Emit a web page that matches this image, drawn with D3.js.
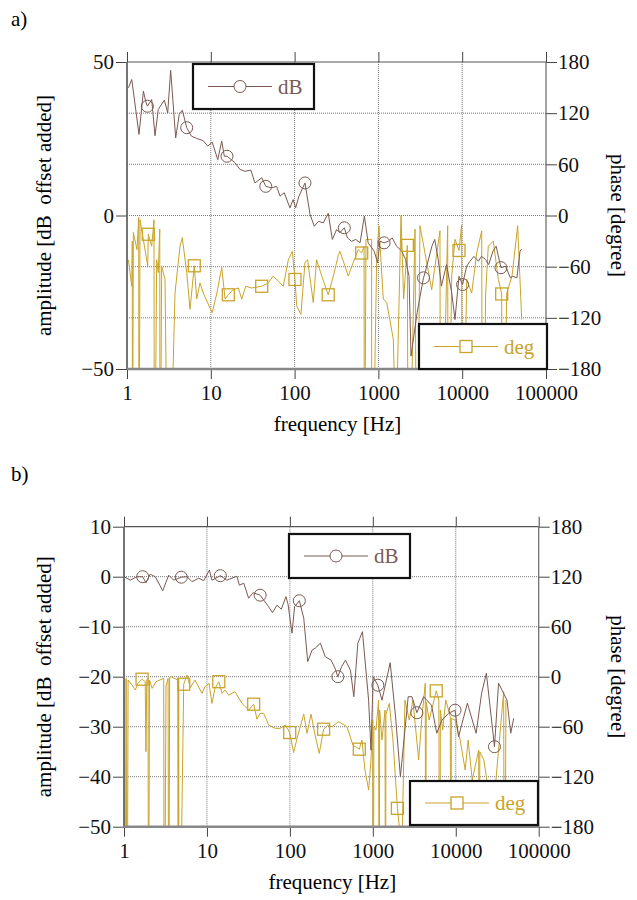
<!DOCTYPE html>
<html lang="en">
<head>
<meta charset="UTF-8" />
<title>Amplitude and phase vs frequency</title>
<script src="https://d3js.org/d3.v7.min.js"></script>
<style>
  body { margin: 0; background: #fff; }
  svg { display: block; }
  text { font-family: "Liberation Serif", "DejaVu Serif", "Times New Roman", serif; }
</style>
</head>
<body>
<svg width="637" height="900"></svg>
<script>
  // ---- data: [frequency Hz, value] ----
  const ampA = [[1.04,41.6],[1.14,44.3],[1.39,26.4],[1.57,40.5],[1.67,37.2],[1.75,35.6],[1.97,37.8],[2.16,26],[2.36,34.5],[2.79,37.6],[3.06,33.4],[3.32,47.3],[3.81,25.3],[4.2,32.9],[4.57,34.3],[5.16,28.6],[5.9,25.8],[6.8,25.1],[8.1,24.4],[9.2,22.6],[10.4,23.9],[12.1,18.2],[13.5,24.2],[14.5,19.3],[15.6,19.3],[19.4,17.2],[22.3,15],[25.6,14.4],[30.1,14.8],[33.6,10.6],[40.6,12.3],[45.3,9.5],[53.3,9],[61,9.5],[67,6.3],[75.2,7.4],[88,2.5],[96,5.2],[103,2.5],[112,6.1],[133,10.6],[153,0.3],[172,-3.5],[192,-1.9],[220,-2.4],[252,0.7],[282,-7.8],[317,-4.6],[347,-5.6],[392,-4],[428,-7.3],[478,-8.4],[537,-7.8],[604,-8.9],[680,-0.2],[755,-8.9],[890,-11.6],[980,-15.4],[1040,-8.4],[1170,-8.9],[1310,-8.4],[1460,-7.3],[1650,-10],[1900,-11.6],[2110,-14.3],[2320,-19.8],[2450,-45.8],[2900,-31.6],[3450,-20.3],[3600,-18.7],[4350,-10],[4700,-7.8],[5170,-14.3],[5650,-23],[6500,-16],[7500,-25.2],[8200,-33.9],[9150,-19.8],[10100,-22.5],[11300,-16.5],[12400,-14.9],[13800,-13.3],[15600,-14.9],[17000,-13.3],[19000,-14.3],[20700,-16],[23300,-11.6],[25400,-10],[29000,-17],[33000,-16.5],[37500,-20.3],[40000,-19.8],[45000,-20.3],[49000,-11.6],[51000,-11]];

  const phA = [[1.04,-52],[1.14,-83],[1.157,-30],[1.16,-400],[1.19,-20],[1.316,-40],[1.38,-2],[1.39,-400],[1.43,-5],[1.565,-28],[1.766,-59],[1.796,-22],[1.97,-36],[2.1,-5],[2.12,-400],[2.26,-52],[2.36,-67],[2.46,-16],[2.48,-400],[2.59,-59],[2.84,-75],[3.11,-400],[3.74,-91],[4.29,-36],[4.57,-26],[5.16,-67],[5.65,-110],[6.35,-59],[6.79,-98],[7.43,-79],[8.13,-91],[10.4,-114],[11.8,-91],[13.5,-61],[14.8,-98],[16.2,-93],[18.5,-87],[21.3,-85],[23.4,-98],[26.1,-83],[30.7,-85],[40.5,-83],[48.5,-79],[55.7,-71],[63.9,-77],[73.3,-83],[84.1,-52],[94,-42],[101,-75],[106,-106],[119,-116],[133,-55],[143,-52],[167,-102],[183,-52],[211,-71],[252,-93],[290,-71],[332,-47],[348,-42],[437,-71],[502,-55],[575,-40],[632,-44],[675,-36],[679,-400],[711,-28],[830,-28],[832,-400],[955,-48],[1016,-12],[1143,-98],[1256,-102],[1506,-145],[1620,-260],[1862,0],[2000,-98],[2215,-35],[2270,-400],[2735,-16],[2865,-400],[3135,-12],[4325,-87],[5430,-18],[5500,-400],[6710,-12],[6800,-400],[7490,-71],[8200,-28],[9160,-41],[9860,-11],[10030,-400],[11320,-75],[12980,-91],[14900,-44],[17100,-18],[17400,-400],[19060,-91],[20480,-36],[23500,-30],[26980,-75],[29600,-92],[30100,-400],[33980,-91],[39300,-71],[45900,-12],[51300,-122]];

  const ampB = [[1,0],[1.19,-0.7],[1.43,0],[1.68,0],[1.84,-1.2],[2.07,0.5],[2.38,0],[2.93,-2.8],[3.46,0.3],[3.97,-0.7],[4.91,-0.1],[5.75,0],[6.6,-1],[7.96,-0.3],[9.14,-0.8],[10.7,1.3],[11.5,-0.7],[14.5,0.2],[17.4,-0.7],[20,-0.3],[23,0.1],[24.6,-1.7],[27.8,-1.3],[31.8,-4.3],[36,-3.2],[43.8,-3.7],[55.3,-6],[61.8,-7.2],[69.8,-5.7],[78.7,-6.5],[89.7,-4],[95,-5.5],[106,-11.3],[114,-6],[130,-4.8],[147,-8.3],[164,-17],[185,-14.7],[205,-14.2],[233,-13.3],[267,-16],[314,-16.7],[350,-18.3],[379,-20],[420,-18],[468,-16.7],[537,-18.7],[590,-24],[660,-13.3],[750,-11],[890,-24.7],[950,-34.7],[1010,-20],[1150,-21.7],[1290,-24.7],[1620,-17.2],[1880,-28],[2150,-40],[2670,-24],[2960,-24],[3400,-27.2],[4100,-24],[5100,-25.7],[5900,-31.3],[6800,-28.7],[8200,-27.3],[9800,-26.7],[10800,-32],[13800,-25.3],[17600,-31.3],[20500,-23.3],[23400,-19.3],[29300,-34],[32800,-21.3],[41500,-24.7],[46000,-31.3],[50000,-28.3]];

  const phB = [[1,-2],[1.03,-400],[1.06,-2],[1.09,-400],[1.12,-4],[1.25,-10],[1.37,-16],[1.47,-8],[1.65,-3],[1.8,-6],[1.84,-90],[1.88,-4],[1.95,-2],[1.97,-400],[2.03,-4],[2.18,-14],[2.43,-6],[3.01,-2],[3.06,-400],[3.21,-11],[3.4,-2],[3.46,-400],[3.55,-1],[3.68,0],[4.45,-4],[4.5,-400],[4.56,-2],[4.62,-400],[5.25,-9],[5.75,2],[6.3,-13],[7.18,-4],[8.72,-20],[9.46,-12],[10.6,-8],[11.5,-32],[12.5,-14],[13.9,-6],[15.2,-20],[16.5,-16],[18.3,-22],[21.8,-18],[26.5,-32],[31.9,-40],[36.6,-33],[40.1,-51],[43.6,-44],[48.3,-44],[55.5,-58],[66.7,-62],[76,-62],[88,-58],[99.5,-67],[111,-91],[125,-70],[147,-45],[161,-68],[180,-45],[201,-70],[226,-92],[255,-63],[287,-58],[322,-60],[387,-54],[488,-60],[576,-82],[687,-87],[740,-76],[804,-112],[891,-136],[950,-100],[996,-52],[1010,-400],[1030,-60],[1090,-64],[1175,-28],[1190,-400],[1210,-40],[1290,-76],[1405,-40],[1420,-400],[1440,-45],[1580,-32],[1750,-76],[1980,-158],[2240,-210],[2440,-28],[2750,-52],[3040,-28],[3570,-100],[3880,-52],[4290,-8],[4340,-400],[4400,-30],[4780,-52],[5820,-17],[6250,-28],[6440,-400],[6520,-40],[6960,-64],[7580,-28],[8590,-48],[8730,-400],[8850,-50],[9800,-52],[11300,-76],[13000,-112],[14100,-76],[15800,-124],[18900,-88],[19200,-400],[19500,-90],[21800,-100],[25800,-148],[30500,-124],[37800,-18],[38700,-400],[40300,-28]];

  // frequencies where the markers sit
  const mkAmpA = [1.75, 5.16, 15.6, 45.3, 133, 392, 1170, 3450, 10100, 29000];
  const mkPhA  = [1.796, 6.35, 16.2, 40.5, 101, 252, 632, 2215, 9160, 29600];
  const mkAmpB = [1.68, 4.91, 14.5, 43.8, 130, 379, 1150, 3400, 9800, 29300];
  const mkPhB  = [1.65, 5.25, 13.9, 36.6, 99.5, 255, 687, 1980, 5820];

  const freqTicks = [1, 10, 100, 1000, 10000, 100000];
  const phaseTicks = [-180, -120, -60, 0, 60, 120, 180];
  const ampTicksA = [-50, 0, 50];
  const ampTicksB = [-50, -40, -30, -20, -10, 0, 10];

  const dbColor = "#7a5a52", degColor = "#c9a42a";
  const fs = 21;

  const panels = [
    { id: "a", label: "a)", labelY: 26, x0: 127, x1: 546, y0: 62, y1: 369,
      ampDomain: [-50, 50], ampTicks: ampTicksA, amp: ampA, ph: phA, mkAmp: mkAmpA, mkPh: mkPhA,
      legDb: [193, 64, 121, 45], legDeg: [419, 324, 128, 45] },
    { id: "b", label: "b)", labelY: 481, x0: 124, x1: 538.7, y0: 526.7, y1: 826.7,
      ampDomain: [-50, 10], ampTicks: ampTicksB, amp: ampB, ph: phB, mkAmp: mkAmpB, mkPh: mkPhB,
      legDb: [289, 534, 121, 44], legDeg: [410, 781, 128, 44] }
  ];

  const svg = d3.select("svg");

  function nearest(series, f) {
    return series.reduce((a, b) =>
      Math.abs(Math.log(b[0] / f)) < Math.abs(Math.log(a[0] / f)) ? b : a);
  }

  function styleAxis(g) {
    g.select(".domain").remove();
    g.attr("font-family", null).attr("font-size", fs);
    g.selectAll("line").attr("stroke", "#444");
    g.selectAll("text").attr("fill", "#111");
  }

  function legend(g, box, color, text, shape) {
    const [bx, by, bw, bh] = box;
    const lg = g.append("g");
    lg.append("rect").attr("x", bx).attr("y", by).attr("width", bw).attr("height", bh)
      .attr("fill", "#fff").attr("stroke", "#111").attr("stroke-width", 2.2);
    const ly = by + bh / 2;
    lg.append("line").attr("x1", bx + 15).attr("x2", bx + 79).attr("y1", ly).attr("y2", ly)
      .attr("stroke", color).attr("stroke-width", 1);
    if (shape === "circle") {
      lg.append("circle").attr("cx", bx + 47).attr("cy", ly).attr("r", 6)
        .attr("fill", "#fff").attr("stroke", color);
    } else {
      lg.append("rect").attr("x", bx + 41).attr("y", ly - 6).attr("width", 12).attr("height", 12)
        .attr("fill", "#fff").attr("stroke", color).attr("stroke-width", 1.3);
    }
    lg.append("text").attr("x", bx + 85).attr("y", ly + 7).attr("font-size", fs)
      .attr("fill", color).text(text);
  }

  panels.forEach(p => {
    const x = d3.scaleLog().domain([1, 100000]).range([p.x0, p.x1]);
    const yAmp = d3.scaleLinear().domain(p.ampDomain).range([p.y1, p.y0]);
    const yPh = d3.scaleLinear().domain([-180, 180]).range([p.y1, p.y0]);
    const g = svg.append("g");

    // panel label
    g.append("text").attr("x", 11).attr("y", p.labelY).attr("font-size", fs).text(p.label);

    // grid
    g.append("g").selectAll("line").data(phaseTicks.slice(1, -1)).join("line")
      .attr("x1", p.x0).attr("x2", p.x1).attr("y1", d => yPh(d)).attr("y2", d => yPh(d))
      .attr("stroke", "#777").attr("stroke-dasharray", "1,1");
    g.append("g").selectAll("line").data(freqTicks.slice(1, -1)).join("line")
      .attr("x1", d => x(d)).attr("x2", d => x(d)).attr("y1", p.y0).attr("y2", p.y1)
      .attr("stroke", "#777").attr("stroke-dasharray", "1,1");

    // clip
    svg.append("clipPath").attr("id", "clip-" + p.id).append("rect")
      .attr("x", p.x0).attr("y", p.y0).attr("width", p.x1 - p.x0).attr("height", p.y1 - p.y0);
    const plot = g.append("g").attr("clip-path", `url(#clip-${p.id})`);

    const lineAmp = d3.line().x(d => x(d[0])).y(d => yAmp(d[1]));
    const linePh = d3.line().x(d => x(d[0])).y(d => yPh(d[1]));

    plot.append("path").datum(p.ph).attr("d", linePh)
      .attr("fill", "none").attr("stroke", degColor).attr("stroke-width", 1);
    plot.append("path").datum(p.amp).attr("d", lineAmp)
      .attr("fill", "none").attr("stroke", dbColor).attr("stroke-width", 1);

    plot.append("g").selectAll("rect").data(p.mkPh.map(f => nearest(p.ph, f))).join("rect")
      .attr("x", d => x(d[0]) - 6).attr("y", d => yPh(d[1]) - 6)
      .attr("width", 12).attr("height", 12)
      .attr("fill", "none").attr("stroke", degColor).attr("stroke-width", 1.3);
    plot.append("g").selectAll("circle").data(p.mkAmp.map(f => nearest(p.amp, f))).join("circle")
      .attr("cx", d => x(d[0])).attr("cy", d => yAmp(d[1])).attr("r", 6)
      .attr("fill", "none").attr("stroke", dbColor).attr("stroke-width", 1);

    // axes
    g.append("g").attr("transform", `translate(${p.x0},0)`)
      .call(d3.axisLeft(yAmp).tickValues(p.ampTicks).tickSize(11).tickSizeOuter(0).tickPadding(2))
      .call(styleAxis);
    g.append("g").attr("transform", `translate(${p.x1},0)`)
      .call(d3.axisRight(yPh).tickValues(phaseTicks).tickSize(11).tickSizeOuter(0).tickPadding(1))
      .call(styleAxis);
    g.append("g").attr("transform", `translate(0,${p.y1})`)
      .call(d3.axisBottom(x).tickValues(freqTicks).tickFormat(d3.format("d")).tickSize(10).tickSizeOuter(0).tickPadding(6))
      .call(styleAxis);
    g.append("g").attr("transform", `translate(0,${p.y0})`)
      .call(d3.axisTop(x).tickValues(freqTicks).tickFormat("").tickSize(10).tickSizeOuter(0))
      .call(styleAxis);

    // frame
    g.append("line").attr("x1", p.x0).attr("x2", p.x1).attr("y1", p.y0).attr("y2", p.y0)
      .attr("stroke", "#555").attr("stroke-width", 1.2);
    g.append("line").attr("x1", p.x1).attr("x2", p.x1).attr("y1", p.y0).attr("y2", p.y1)
      .attr("stroke", "#666").attr("stroke-width", 1.2);
    g.append("line").attr("x1", p.x0).attr("x2", p.x0).attr("y1", p.y0).attr("y2", p.y1)
      .attr("stroke", "#666").attr("stroke-width", 1.8);
    g.append("line").attr("x1", p.x0).attr("x2", p.x1).attr("y1", p.y1).attr("y2", p.y1)
      .attr("stroke", "#888").attr("stroke-width", 2.4);

    // titles
    const cy = (p.y0 + p.y1) / 2;
    g.append("text").attr("transform", `translate(51,${cy}) rotate(-90)`)
      .attr("text-anchor", "middle").attr("font-size", fs).style("white-space", "pre")
      .text("amplitude [dB  offset added]");
    g.append("text").attr("transform", `translate(611,${cy}) rotate(90)`)
      .attr("text-anchor", "middle").attr("font-size", fs).text("phase [degree]");
    g.append("text").attr("x", (p.x0 + p.x1) / 2 + 1).attr("y", p.y1 + 62)
      .attr("text-anchor", "middle").attr("font-size", fs).text("frequency [Hz]");

    // legends
    legend(g, p.legDb, dbColor, "dB", "circle");
    legend(g, p.legDeg, degColor, "deg", "square");
  });
</script>
</body>
</html>
